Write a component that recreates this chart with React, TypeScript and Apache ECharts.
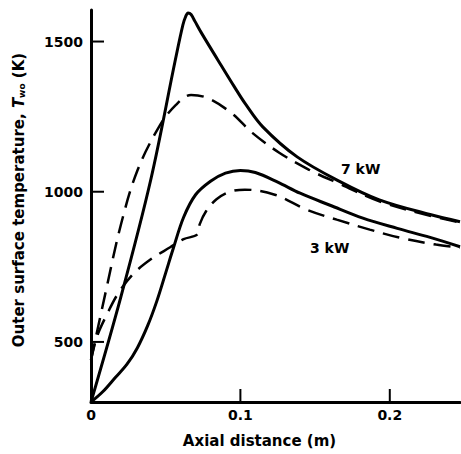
import React, { useEffect, useRef } from "react";
import * as echarts from "echarts";

// Axial distance (m) and outer surface temperature (K)
const kw7SolidX = [0, 0.02, 0.04, 0.0565, 0.0615, 0.0635, 0.065, 0.067, 0.0695, 0.074, 0.085, 0.096, 0.103, 0.115, 0.138, 0.167, 0.193, 0.227, 0.247];
const kw7SolidT = [300, 650, 1040, 1440, 1555, 1585, 1595, 1590, 1568, 1528, 1438, 1349, 1295, 1216, 1116, 1033, 973, 924, 900];

const kw7DashX = [0, 0.01, 0.02, 0.031, 0.046, 0.057, 0.067, 0.078, 0.094, 0.108, 0.126, 0.146, 0.167, 0.193, 0.227, 0.247];
const kw7DashT = [440, 670, 890, 1070, 1220, 1290, 1322, 1312, 1262, 1196, 1130, 1073, 1025, 968, 920, 898];

const kw3SolidX = [0, 0.008, 0.016, 0.024, 0.031, 0.038, 0.044, 0.05, 0.055, 0.062, 0.07, 0.08, 0.09, 0.1, 0.11, 0.125, 0.14, 0.16, 0.182, 0.205, 0.227, 0.247];
const kw3SolidT = [300, 335, 380, 425, 480, 555, 635, 730, 810, 915, 990, 1035, 1062, 1071, 1064, 1032, 995, 955, 912, 878, 848, 817];

const kw3DashX = [0, 0.004, 0.011, 0.018, 0.028, 0.04, 0.053, 0.062, 0.0712, 0.0728, 0.077, 0.084, 0.093, 0.103, 0.123, 0.1445, 0.1645, 0.1866, 0.2067, 0.231, 0.247];
const kw3DashT = [440, 518, 595, 660, 725, 775, 815, 842, 858, 892, 935, 975, 1000, 1007, 990, 940, 907, 874, 847, 824, 814];

const X_MIN = 0;
const X_MAX = 0.247;
const Y_MIN = 300;
const Y_MAX = 1605;
const xTickValues = [0, 0.1, 0.2];
const yTickValues = [500, 1000, 1500];
const curveLabels = ["7 kW", "3 kW"];

const FONT = "DejaVu Sans";

function pairs(xs: number[], ys: number[]) {
  return xs.map((x, i) => [x, ys[i]]);
}

export default function App() {
  const ref = useRef<HTMLDivElement>(null);
  useEffect(() => {
    if (!ref.current) return;
    const chart = echarts.init(ref.current, null, { renderer: "svg" });
    const solid = { color: "#000", width: 3, type: "solid" as const };
    const dashed = { color: "#000", width: 2.5, type: [17, 9] as any };
    const common = {
      type: "line" as const,
      showSymbol: false,
      symbol: "none",
      smooth: 0.35,
    };
    const TICK = 13;
    const labelText = { color: "#000", fontFamily: FONT, fontWeight: "bold" as const, fontSize: 14 };
    chart.setOption({
      animation: false,
      grid: { left: 91, right: 1, top: 10, bottom: 52 },
      title: [
        { text: curveLabels[0], left: 341, top: 162, padding: 0, textStyle: labelText },
        { text: curveLabels[1], left: 310, top: 241, padding: 0, textStyle: labelText },
      ],
      xAxis: {
        type: "value",
        min: X_MIN,
        max: X_MAX,
        name: "Axial distance (m)",
        nameLocation: "middle",
        nameGap: 31,
        nameTextStyle: { color: "#000", fontFamily: FONT, fontWeight: "bold", fontSize: 15, padding: [0, 32, 0, 0] },
        axisLine: { show: true, lineStyle: { color: "#000", width: 3 } },
        axisTick: { show: false },
        axisLabel: {
          customValues: xTickValues,
          color: "#000",
          fontFamily: FONT,
          fontWeight: "bold",
          fontSize: 14,
          margin: 6,
          formatter: (v: number) => (v === 0 ? "0" : v.toFixed(1)),
        },
        splitLine: { show: false },
      },
      yAxis: {
        type: "value",
        min: Y_MIN,
        max: Y_MAX,
        name: "Outer surface temperature, {i|T}{sub|wo} (K)",
        nameLocation: "middle",
        nameRotate: 90,
        nameGap: 65,
        nameTextStyle: {
          color: "#000",
          fontFamily: FONT,
          fontWeight: "bold",
          fontSize: 15,
          padding: [0, 0, 0, 12],
          rich: {
            i: { color: "#000", fontFamily: FONT, fontWeight: "bold", fontStyle: "italic", fontSize: 15 },
            sub: { color: "#000", fontFamily: FONT, fontWeight: "bold", fontSize: 9, verticalAlign: "bottom" },
          },
        },
        axisLine: { show: true, lineStyle: { color: "#000", width: 3 } },
        axisTick: { show: false },
        axisLabel: {
          customValues: yTickValues,
          color: "#000",
          fontFamily: FONT,
          fontWeight: "bold",
          fontSize: 14,
          margin: 8,
          formatter: (v: number) => String(v),
        },
        splitLine: { show: false },
      },
      series: [
        { ...common, name: "7 kW measured", data: pairs(kw7SolidX, kw7SolidT), lineStyle: solid },
        { ...common, name: "7 kW predicted", data: pairs(kw7DashX, kw7DashT), lineStyle: dashed },
        { ...common, name: "3 kW measured", data: pairs(kw3SolidX, kw3SolidT), lineStyle: solid },
        { ...common, name: "3 kW predicted", data: pairs(kw3DashX, kw3DashT), lineStyle: dashed },
        {
          type: "custom",
          data: yTickValues.map((v) => [X_MIN, v]),
          renderItem: (_p: any, api: any) => {
            const pt = api.coord([api.value(0), api.value(1)]);
            return { type: "line", shape: { x1: pt[0], y1: pt[1], x2: pt[0] + TICK, y2: pt[1] }, style: { stroke: "#000", lineWidth: 2 } };
          },
        },
        {
          type: "custom",
          data: xTickValues.filter((v) => v > X_MIN).map((v) => [v, Y_MIN]),
          renderItem: (_p: any, api: any) => {
            const pt = api.coord([api.value(0), api.value(1)]);
            return { type: "line", shape: { x1: pt[0], y1: pt[1], x2: pt[0], y2: pt[1] - TICK }, style: { stroke: "#000", lineWidth: 2 } };
          },
        },
      ],
    });
    return () => chart.dispose();
  }, []);
  return <div ref={ref} style={{ position: "fixed", left: 0, top: 0, width: 461, height: 454, background: "#fff" }} />;
}
